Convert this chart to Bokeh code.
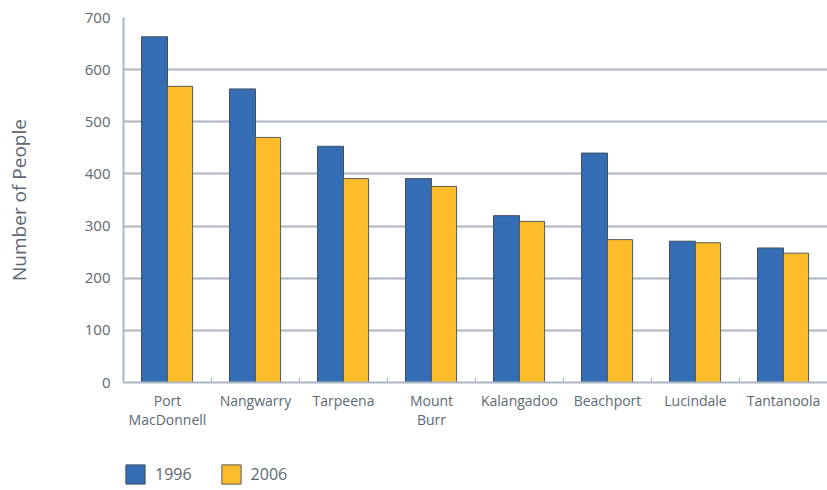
import numpy as np
from bokeh.plotting import figure
from bokeh.layouts import column
from bokeh.models import (Range1d, FixedTicker, Legend, LegendItem, ColumnDataSource)
from bokeh.embed import file_html
from bokeh.resources import INLINE

towns = ["Port\nMacDonnell", "Nangwarry", "Tarpeena", "Mount\nBurr", "Kalangadoo",
         "Beachport", "Lucindale", "Tantanoola"]
pop_1996 = [663, 563, 453, 391, 320, 440, 271, 258]
pop_2006 = [568, 470, 391, 376, 309, 274, 268, 248]
y_ticks = [0, 100, 200, 300, 400, 500, 600, 700]
series = ["1996", "2006"]

BLUE = "#346db4"
YELLOW = "#fdbc2a"
GRID = "#aab6c0"
TEXT = "#5d6872"
FONT = "Open Sans"

n = len(towns)
centers = np.arange(n) + 0.5
wb = 0.295
wy = 0.285

src = ColumnDataSource(dict(
    xb=centers - wb / 2, xy=centers + wy / 2, b=pop_1996, yv=pop_2006))

p = figure(width=827, height=440, output_backend="svg", toolbar_location=None,
           x_range=Range1d(0, n), y_range=Range1d(0, 700))
p.min_border_left = 123
p.min_border_right = 0
p.min_border_top = 17
p.min_border_bottom = 58
p.outline_line_color = None

rb = p.vbar(x="xb", top="b", width=wb, source=src, fill_color=BLUE,
            line_color="#3f4f60", line_width=1)
ry = p.vbar(x="xy", top="yv", width=wy, source=src, fill_color=YELLOW,
            line_color="#5a5a50", line_width=1)

# y axis
p.yaxis.ticker = FixedTicker(ticks=y_ticks)
p.yaxis.axis_label = "Number of People"
p.yaxis.axis_label_text_font = FONT
p.yaxis.axis_label_text_font_style = "normal"
p.yaxis.axis_label_text_font_size = "19px"
p.yaxis.axis_label_text_color = TEXT
p.yaxis.axis_label_standoff = 50
p.yaxis.major_label_text_font = FONT
p.yaxis.major_label_text_font_size = "15px"
p.yaxis.major_label_text_color = TEXT
p.yaxis.major_label_standoff = 7
p.yaxis.major_tick_line_color = None
p.yaxis.minor_tick_line_color = None
p.yaxis.axis_line_color = GRID
p.yaxis.axis_line_width = 2

# x axis
p.xaxis.ticker = FixedTicker(ticks=list(centers), minor_ticks=list(range(1, n)))
p.xaxis.major_label_overrides = {float(c): t for c, t in zip(centers, towns)}
p.xaxis.major_label_text_font = FONT
p.xaxis.major_label_text_font_size = "14px"
p.xaxis.major_label_text_color = TEXT
p.xaxis.major_label_text_line_height = 1.0
p.xaxis.major_label_standoff = 2
p.xaxis.major_tick_line_color = None
p.xaxis.minor_tick_in = 5
p.xaxis.minor_tick_out = 0
p.xaxis.minor_tick_line_color = GRID
p.xaxis.axis_line_color = GRID
p.xaxis.axis_line_width = 2

p.xgrid.grid_line_color = None
p.ygrid.ticker = FixedTicker(ticks=y_ticks[1:])
p.ygrid.grid_line_color = GRID
p.ygrid.grid_line_width = 2

# legend strip (swatch renderers use the same data, kept out of view)
lg = figure(width=827, height=50, output_backend="svg", toolbar_location=None,
            x_range=Range1d(0, n), y_range=Range1d(1000, 1001))
lg.min_border_left = 122
lg.min_border_right = 0
lg.min_border_top = 22
lg.min_border_bottom = 0
lg.outline_line_color = None
lg.axis.visible = False
lg.grid.visible = False
lb = lg.vbar(x="xb", top="b", width=wb, source=src, fill_color=BLUE,
             line_color="#3f4f60", line_width=1)
ly = lg.vbar(x="xy", top="yv", width=wy, source=src, fill_color=YELLOW,
             line_color="#5a5a50", line_width=1)

legend = Legend(items=[LegendItem(label=series[0], renderers=[lb]),
                       LegendItem(label=series[1], renderers=[ly])],
                orientation="horizontal", location="top_left",
                glyph_width=24, glyph_height=24, label_text_font=FONT,
                label_text_font_size="16px", label_text_color=TEXT,
                border_line_color=None, background_fill_alpha=0,
                spacing=27, padding=0, margin=0, label_standoff=8)
lg.add_layout(legend, "center")

open("out.html", "w").write(file_html(column(p, lg, spacing=0), INLINE))
